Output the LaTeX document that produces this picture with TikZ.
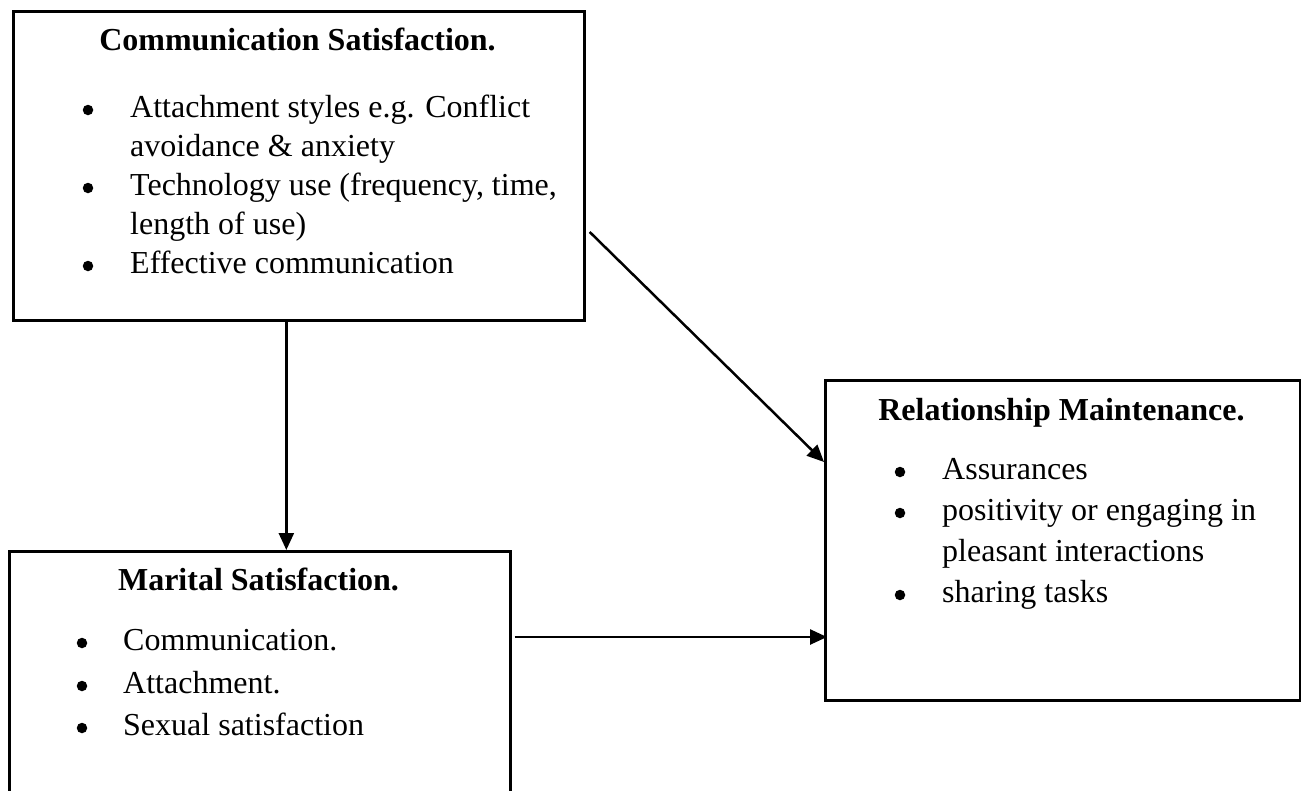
\documentclass[tikz,border=0pt]{standalone}
\usepackage{fontspec}
\setmainfont{Liberation Serif}
\usetikzlibrary{arrows.meta}
\begin{document}
\begin{tikzpicture}[x=1pt,y=-1pt,
  box/.style={draw, line width=2.7pt, anchor=north west, inner sep=0pt},
  ttl/.style={font=\fontsize{32}{38}\selectfont\bfseries, anchor=base, inner sep=0pt},
  itm/.style={font=\fontsize{32}{38}\selectfont, anchor=base west, inner sep=0pt},
  bul/.style={circle, fill, inner sep=0pt, minimum size=10.5pt},
  arr/.style={line width=2.5pt, -{Triangle[length=17pt,width=15pt]}}]
\path[use as bounding box] (0,0) rectangle (1301,790);
\clip (0,0) rectangle (1301,790);
% boxes
\node[box, minimum width=571pt, minimum height=309pt] (b1) at (12,10) {};
\node[box, minimum width=501pt, minimum height=260pt] (b2) at (8,550) {};
\node[box, minimum width=475pt, minimum height=320pt] (b3) at (824,379) {};
% box 1 text
\node[ttl] (t1) at (297.5,50) {Communication Satisfaction.};
\node[bul] (b1u1) at (88,110) {};
\node[itm] (b1l1) at (130,117) {Attachment styles e.g. Conflict};
\node[itm] (b1l2) at (130,156) {avoidance \& anxiety};
\node[bul] (b1u2) at (88,188) {};
\node[itm] (b1l3) at (130,195) {Technology use (frequency, time,};
\node[itm] (b1l4) at (130,234) {length of use)};
\node[bul] (b1u3) at (88,266) {};
\node[itm] (b1l5) at (130,273) {Effective communication};
% box 2 text
\node[ttl] (t2) at (258.5,590) {Marital Satisfaction.};
\node[bul] (b2u1) at (82,643) {};
\node[itm] (b2l1) at (123,650) {Communication.};
\node[bul] (b2u2) at (82,686) {};
\node[itm] (b2l2) at (123,693) {Attachment.};
\node[bul] (b2u3) at (82,728) {};
\node[itm] (b2l3) at (123,735) {Sexual satisfaction};
% box 3 text
\node[ttl] (t3) at (1061.5,420) {Relationship Maintenance.};
\node[bul] (b3u1) at (900,472) {};
\node[itm] (b3l1) at (942,479) {Assurances};
\node[bul] (b3u2) at (900,513) {};
\node[itm] (b3l2) at (942,520) {positivity or engaging in};
\node[itm] (b3l3) at (942,561) {pleasant interactions};
\node[bul] (b3u3) at (900,595) {};
\node[itm] (b3l4) at (942,602) {sharing tasks};
% connectors
\draw[arr] ([xshift=-12.5pt]b1.south) -- ([xshift=-12.5pt]b1.south |- b2.north);
\draw[arr] ([xshift=4pt,yshift=-222pt]b1.north east) -- ([yshift=-83pt]b3.north west);
\draw[arr] ([xshift=3pt,yshift=-87pt]b2.north east) -- ([xshift=3pt,yshift=-87pt]b2.north east -| b3.west);
\end{tikzpicture}
\end{document}
